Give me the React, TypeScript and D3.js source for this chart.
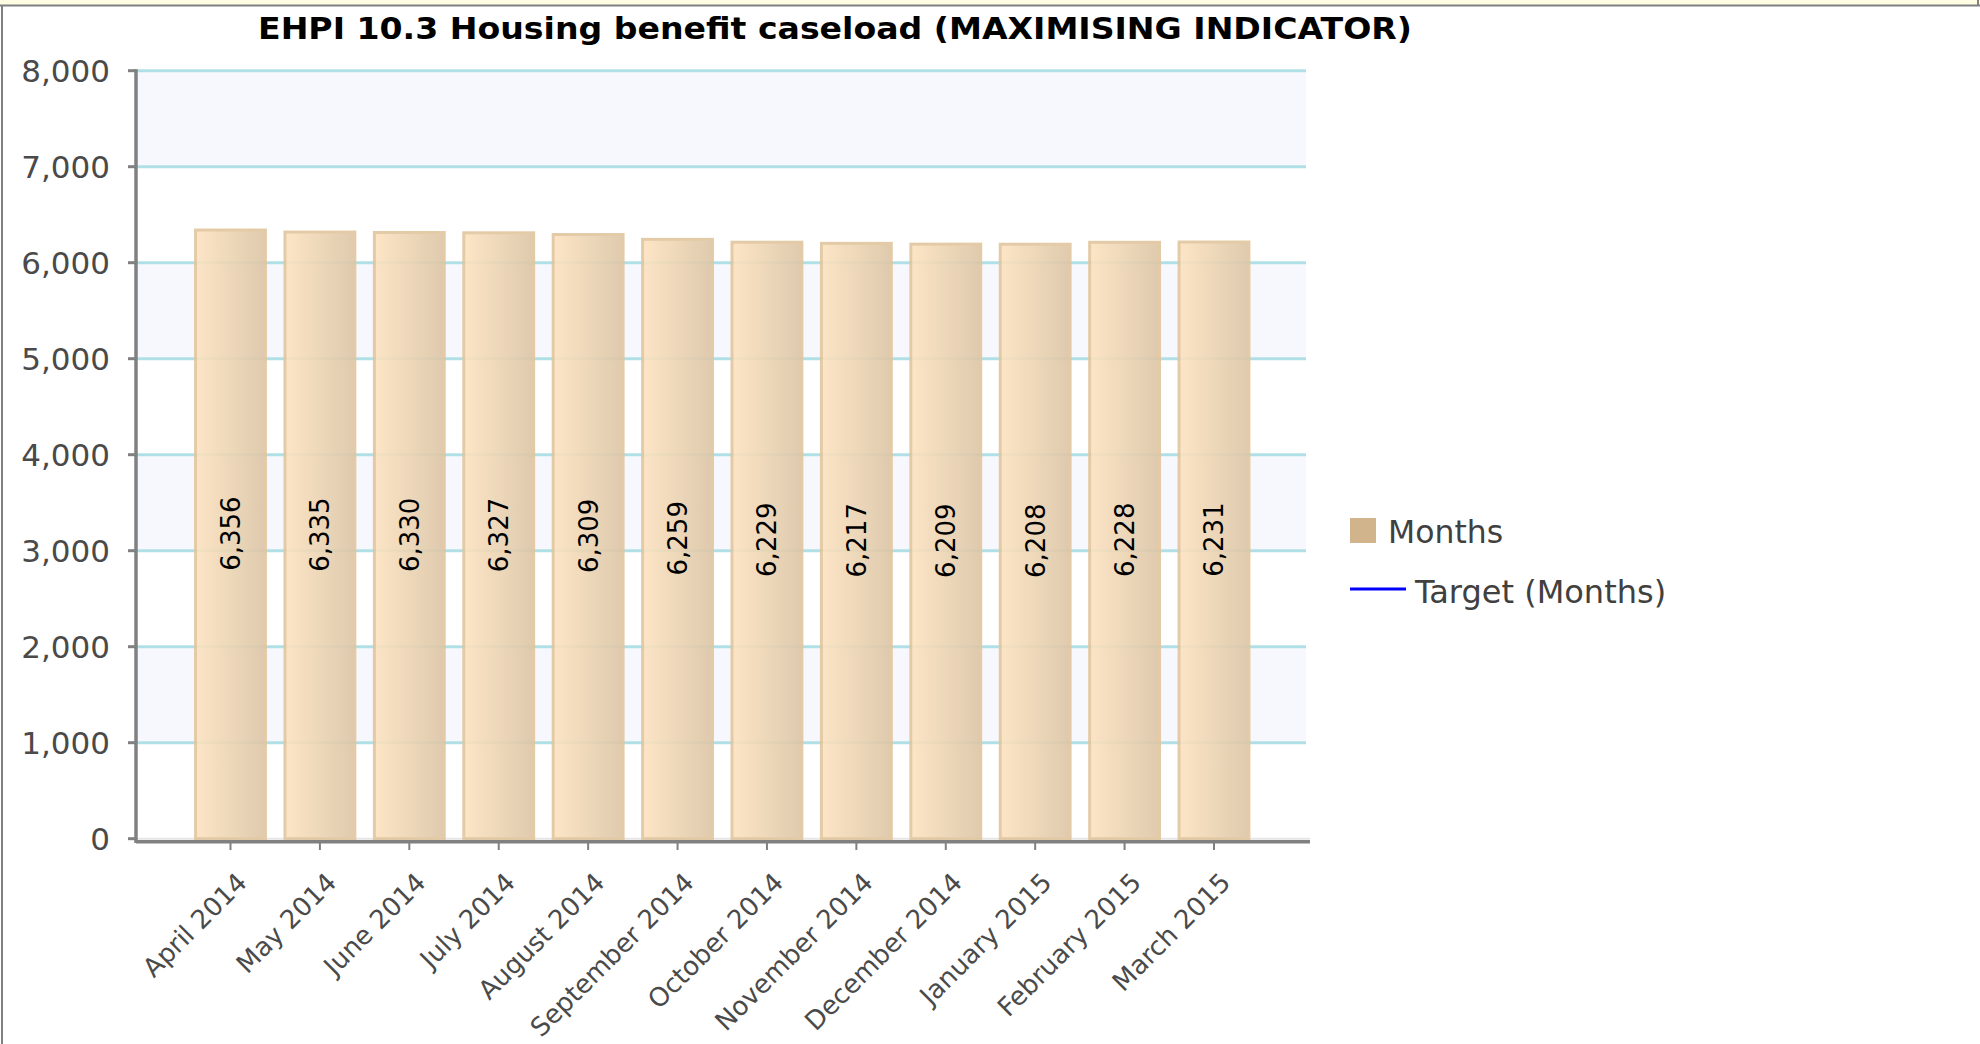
import React from "react";
import * as d3 from "d3";

const TITLE = "EHPI 10.3 Housing benefit caseload (MAXIMISING INDICATOR)";
const categories = [
  "April 2014",
  "May 2014",
  "June 2014",
  "July 2014",
  "August 2014",
  "September 2014",
  "October 2014",
  "November 2014",
  "December 2014",
  "January 2015",
  "February 2015",
  "March 2015",
];
const months = [6356, 6335, 6330, 6327, 6309, 6259, 6229, 6217, 6209, 6208, 6228, 6231];
const yTicks = [0, 1000, 2000, 3000, 4000, 5000, 6000, 7000, 8000];
const legendLabels = ["Months", "Target (Months)"];

const W = 1980;
const H = 1044;
const plotLeft = 136;
const plotRight = 1306;
const y0 = 838.7;
const yTop = 70.7;
const FONT = "'DejaVu Sans', Verdana, sans-serif";

export default function App() {
  const x = d3.scalePoint<string>().domain(categories).range([230.5, 1214]);
  const step = x.step();
  const barW = step * 0.815;
  const y = d3.scaleLinear().domain([0, 8000]).range([y0, yTop]);
  const fmt = d3.format(",");

  const bands = yTicks.slice(0, -1).map((t, i) => ({ lo: t, hi: yTicks[i + 1], shaded: i % 2 === 1 }));

  return (
    <svg
      width={W}
      height={H}
      viewBox={`0 0 ${W} ${H}`}
      style={{ position: "absolute", left: 0, top: 0, display: "block", background: "#fff" }}
    >
      <defs>
        <linearGradient id="barGrad" x1="0" x2="1" y1="0" y2="0">
          <stop offset="0%" stopColor="#FDE3C0" />
          <stop offset="100%" stopColor="#DCC5A6" />
        </linearGradient>
      </defs>

      {/* frame */}
      <rect x={0} y={0} width={W} height={5} fill="#FFFDE4" />
      <line x1={0} x2={W} y1={5.5} y2={5.5} stroke="#808080" strokeWidth={2} />
      <line x1={2} x2={2} y1={5} y2={H} stroke="#808080" strokeWidth={2} />
      <line x1={W - 2} x2={W - 2} y1={0} y2={6} stroke="#808080" strokeWidth={2} />

      {/* title */}
      <text
        x={258}
        y={39}
        fontFamily={FONT}
        fontWeight="bold"
        fontSize={30}
        textLength={1154}
        lengthAdjust="spacingAndGlyphs"
        fill="#000"
      >
        {TITLE}
      </text>

      {/* bands */}
      {bands.map((b, i) =>
        b.shaded ? (
          <rect
            key={"band" + i}
            x={plotLeft}
            width={plotRight - plotLeft}
            y={y(b.hi)}
            height={y(b.lo) - y(b.hi)}
            fill="#F7F8FD"
          />
        ) : null
      )}

      {/* grid lines */}
      {yTicks.map((t) =>
        t === 0 ? (
          <line key={"g" + t} x1={plotLeft} x2={1310} y1={y(t)} y2={y(t)} stroke="#E6E6E6" strokeWidth={2} />
        ) : (
          <line key={"g" + t} x1={plotLeft} x2={plotRight} y1={y(t)} y2={y(t)} stroke="#B0E0E6" strokeWidth={3} />
        )
      )}

      {/* bars */}
      {months.map((v, i) => {
        const cx = x(categories[i])!;
        return (
          <rect
            key={"bar" + i}
            x={cx - barW / 2 + 1.5}
            y={y(v) + 1.5}
            width={barW - 3}
            height={y(0) - y(v) - 1.5}
            fill="url(#barGrad)"
            stroke="#E2C69E"
            strokeWidth={3}
            opacity={0.9}
          />
        );
      })}

      {/* value labels */}
      {months.map((v, i) => {
        const cx = x(categories[i])!;
        const cy = (y(v) + y(0)) / 2;
        return (
          <text
            key={"val" + i}
            transform={`translate(${cx},${cy}) rotate(-90)`}
            textAnchor="middle"
            dy="0.36em"
            fontFamily={FONT}
            fontSize={26}
            fill="#000"
          >
            {fmt(v)}
          </text>
        );
      })}

      {/* y axis */}
      <line x1={plotLeft} x2={plotLeft} y1={yTop - 1.5} y2={843} stroke="#808080" strokeWidth={3.5} />
      {yTicks.map((t) => (
        <g key={"yt" + t}>
          <line x1={128} x2={plotLeft} y1={y(t)} y2={y(t)} stroke="#808080" strokeWidth={3} />
          <text
            x={110}
            y={y(t)}
            dy="0.36em"
            textAnchor="end"
            fontFamily={FONT}
            fontSize={31}
            fill="#4a4a4a"
          >
            {fmt(t)}
          </text>
        </g>
      ))}

      {/* x axis */}
      <line x1={plotLeft} x2={1310} y1={841.8} y2={841.8} stroke="#808080" strokeWidth={3.5} />
      {categories.map((c) => {
        const cx = x(c)!;
        return (
          <g key={"xt" + c}>
            <line x1={cx} x2={cx} y1={843} y2={850} stroke="#808080" strokeWidth={2} />
            <text
              transform={`translate(${cx + 18},${884}) rotate(-45)`}
              textAnchor="end"
              fontFamily={FONT}
              fontSize={26}
              fill="#4a4a4a"
            >
              {c}
            </text>
          </g>
        );
      })}

      {/* legend */}
      <rect x={1350} y={518} width={26} height={25} fill="#D2B48C" />
      <text x={1388} y={543} fontFamily={FONT} fontSize={31.5} fill="#404040">
        {legendLabels[0]}
      </text>
      <line x1={1350} x2={1406} y1={589} y2={589} stroke="#0000FF" strokeWidth={3} />
      <text x={1415} y={603} fontFamily={FONT} fontSize={32} fill="#404040">
        {legendLabels[1]}
      </text>
    </svg>
  );
}
